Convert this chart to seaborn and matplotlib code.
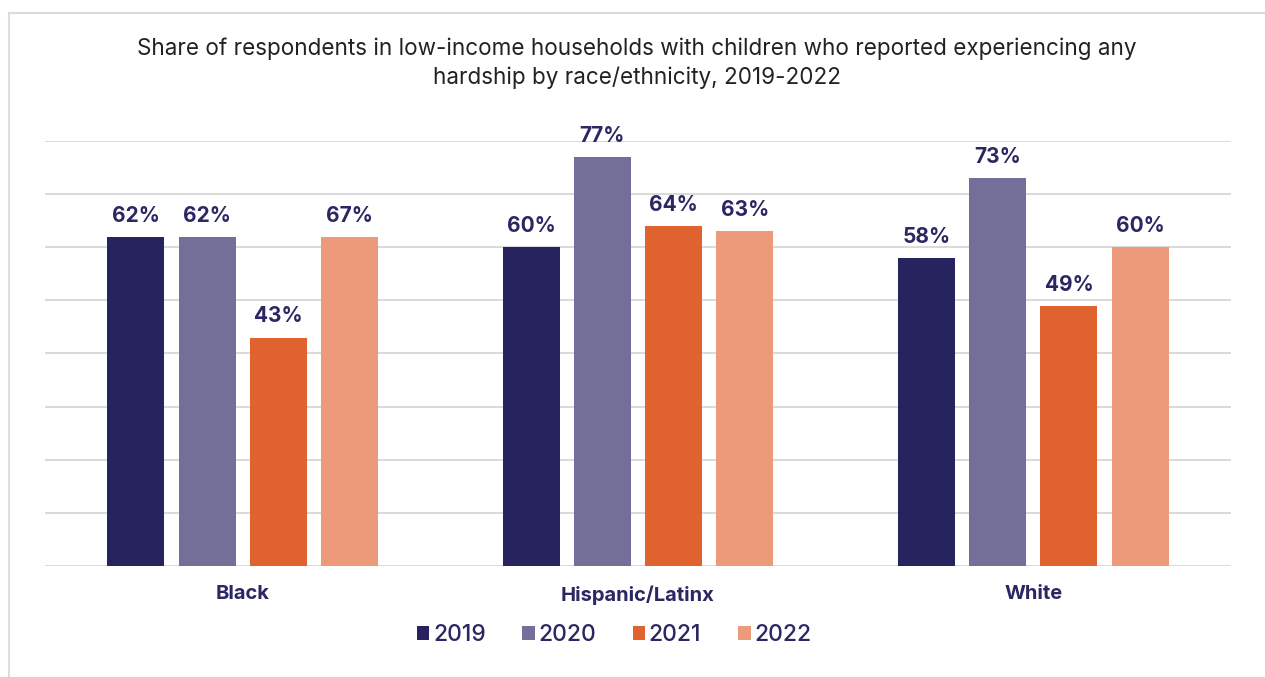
import matplotlib
matplotlib.use("Agg")
import matplotlib.pyplot as plt
from matplotlib.lines import Line2D
import seaborn as sns
import pandas as pd

# ---- data ----
categories = ["Black", "Hispanic/Latinx", "White"]
years = ["2019", "2020", "2021", "2022"]
bar_heights = {
    "2019": [62, 60, 58],
    "2020": [62, 77, 73],
    "2021": [43, 64, 49],
    "2022": [62, 63, 60],
}
bar_labels = {
    "2019": ["62%", "60%", "58%"],
    "2020": ["62%", "77%", "73%"],
    "2021": ["43%", "64%", "49%"],
    "2022": ["67%", "63%", "60%"],
}
colors = ["#27235f", "#736f99", "#e0622f", "#ec9a7a"]
title = ("Share of respondents in low-income households with children who reported experiencing any\n"
         "hardship by race/ethnicity, 2019-2022")

rows = []
for y in years:
    for c, v in zip(categories, bar_heights[y]):
        rows.append({"category": c, "year": y, "value": v})
df = pd.DataFrame(rows)

sns.set_theme(style="white")
plt.rcParams["font.family"] = ["Inter", "DejaVu Sans"]

navy = "#2a2762"
fig = plt.figure(figsize=(12.65, 6.77), dpi=100)
ax = fig.add_axes([45 / 1265, 1 - 566 / 677, (1231 - 45) / 1265, (566 - 141) / 677])

sns.barplot(data=df, x="category", y="value", hue="year", order=categories,
            hue_order=years, palette=colors, width=0.72, gap=0.2,
            linewidth=0, saturation=1, ax=ax, legend=True)

ax.set_ylim(0, 80)
ax.set_xlim(-0.5, 2.5)
ax.set_yticks(range(0, 81, 10))
ax.yaxis.grid(True, color="#d9d9d9", linewidth=1.4)
ax.set_axisbelow(True)
ax.tick_params(axis="y", left=False, labelleft=False)
ax.tick_params(axis="x", bottom=False, pad=8)
for s in ax.spines.values():
    s.set_visible(False)
ax.set_xlabel("")
ax.set_ylabel("")
for lab in ax.get_xticklabels():
    lab.set_fontsize(14.5)
    lab.set_fontweight("bold")
    lab.set_color(navy)

for cont, y in zip(ax.containers, years):
    ax.bar_label(cont, labels=bar_labels[y], padding=8, fontsize=15,
                 fontweight="bold", color=navy, clip_on=False)

leg = ax.get_legend()
handles = leg.legend_handles
leg.remove()
fig.legend(handles, years, loc="center", bbox_to_anchor=(614 / 1265, 1 - 635 / 677),
           ncol=4, frameon=False, prop={"size": 16.5, "weight": "medium"},
           handlelength=0.55, handleheight=0.55,
           handletextpad=0.15, columnspacing=1.6, labelcolor=navy)

fig.text(637 / 1265, 1 - 63 / 677, title, ha="center", va="center", fontsize=16.2,
         color="#222222", linespacing=1.35)

# light frame (left and top edges)
fig.add_artist(Line2D([9 / 1265, 9 / 1265], [0, 1 - 13 / 677], transform=fig.transFigure,
                      color="#dcdcdc", linewidth=1.5))
fig.add_artist(Line2D([9 / 1265, 1], [1 - 13 / 677, 1 - 13 / 677], transform=fig.transFigure,
                      color="#dcdcdc", linewidth=1.5))

fig.savefig("out.png", dpi=100)
